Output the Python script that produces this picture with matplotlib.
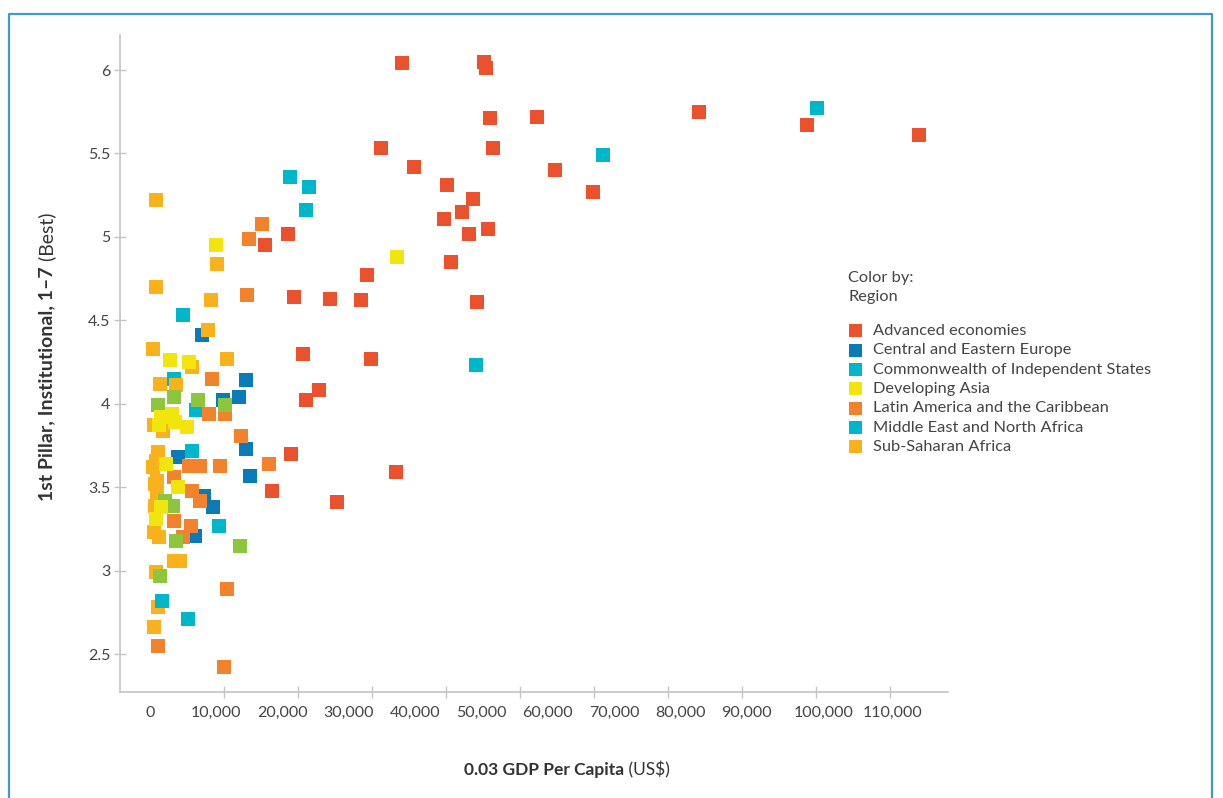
import matplotlib

matplotlib.use("Agg")
import matplotlib.pyplot as plt
from matplotlib.lines import Line2D
from matplotlib.patches import Rectangle
from matplotlib.transforms import ScaledTranslation

# GDP per capita (US$) and 1st pillar score, by region
adv_x = [38000, 50400, 50700, 51300, 58400, 82800, 99100, 116000, 34800, 51700,
         39800, 61100, 66800, 44800, 48700, 44300, 47000, 48100, 51000, 20800,
         17300, 45400, 32700, 21700, 27100, 31800, 49300, 23100, 33300, 25500,
         23500, 21300, 37100, 18400, 28200]
adv_y = [6.04, 6.05, 6.01, 5.71, 5.72, 5.75, 5.67, 5.61, 5.53, 5.53,
         5.42, 5.40, 5.27, 5.31, 5.23, 5.11, 5.15, 5.02, 5.05, 5.02,
         4.95, 4.85, 4.77, 4.64, 4.63, 4.62, 4.61, 4.30, 4.27, 4.08,
         4.02, 3.70, 3.59, 3.48, 3.41]

cee_x = [7800, 14500, 13400, 11000, 14500, 15100, 9500, 8100, 6800, 4200]
cee_y = [4.41, 4.14, 4.04, 4.02, 3.73, 3.57, 3.38, 3.45, 3.21, 3.68]

cis_x = [5000, 3600, 6900, 6300, 10400, 5700]
cis_y = [4.53, 4.15, 3.96, 3.72, 3.27, 2.71]

mena_x = [100600, 68300, 21100, 24000, 23500, 49200, 1800]
mena_y = [5.77, 5.49, 5.36, 5.30, 5.16, 4.23, 2.82]

# green points have no entry in the legend
other_x = [1200, 3600, 7200, 11300, 2300, 3500, 3900, 13600, 1500]
other_y = [3.99, 4.04, 4.02, 3.99, 3.42, 3.39, 3.18, 3.15, 2.97]

asia_x = [10000, 37200, 3000, 5900, 3300, 1700, 3800, 1400, 5600, 2400, 4200, 1700, 900]
asia_y = [4.95, 4.88, 4.26, 4.25, 3.94, 3.92, 3.89, 3.87, 3.86, 3.64, 3.50, 3.38, 3.31]

latam_x = [16900, 14900, 14600, 9300, 8900, 11300, 13700, 17900, 5900, 7500,
           10600, 3600, 6300, 7500, 3600, 6200, 5000, 11600, 1200, 11200]
latam_y = [5.08, 4.99, 4.65, 4.15, 3.94, 3.94, 3.81, 3.64, 3.63, 3.63,
           3.63, 3.56, 3.48, 3.42, 3.30, 3.27, 3.20, 2.89, 2.55, 2.42]

ssa_x = [900, 10100, 900, 9200, 8700, 500, 11600, 6300, 1500, 3900,
         600, 2000, 1200, 900, 500, 1100, 800, 1100, 800, 600,
         1400, 3600, 4500, 900, 1200, 600]
ssa_y = [5.22, 4.84, 4.70, 4.62, 4.44, 4.33, 4.27, 4.22, 4.12, 4.11,
         3.87, 3.84, 3.71, 3.66, 3.62, 3.54, 3.52, 3.46, 3.39, 3.23,
         3.20, 3.06, 3.06, 2.99, 2.78, 2.66]

legend_labels = ["Advanced economies", "Central and Eastern Europe",
                 "Commonwealth of Independent States", "Developing Asia",
                 "Latin America and the Caribbean", "Middle East and North Africa",
                 "Sub-Saharan Africa"]
legend_colors = ["#e9522c", "#0b7bb7", "#00b6c9", "#f1e50d", "#f3822d", "#00b6c9", "#f9b21b"]

x_ticks = [0, 10000, 20000, 30000, 40000, 50000, 60000, 70000, 80000, 90000, 100000, 110000]
y_ticks = [2.5, 3, 3.5, 4, 4.5, 5, 5.5, 6]

plt.rcParams["font.family"] = ["Lato", "DejaVu Sans"]

W, H = 1223, 798
fig = plt.figure(figsize=(W / 100, H / 100), dpi=100)
ax = fig.add_axes([120 / W, 1 - 692 / H, 828 / W, 657 / H])

# draw order follows the overlaps in the picture
series = [
    (adv_x, adv_y, "#e9522c"),
    (cee_x, cee_y, "#0b7bb7"),
    (cis_x, cis_y, "#00b6c9"),
    (latam_x, latam_y, "#f3822d"),
    (ssa_x, ssa_y, "#f9b21b"),
    (other_x, other_y, "#8cc63f"),
    (asia_x, asia_y, "#f1e50d"),
    (mena_x, mena_y, "#00b6c9"),
]
for xs, ys, c in series:
    ax.scatter(xs, ys, s=100, marker="s", color=c, linewidths=0, zorder=3)

ax.set_xlim(-4524, 120340)
ax.set_ylim(2.273, 6.21)

for side in ["top", "right"]:
    ax.spines[side].set_visible(False)
for side in ["left", "bottom"]:
    ax.spines[side].set_color("#c4c4c4")
    ax.spines[side].set_linewidth(1.2)

ax.set_yticks(y_ticks)
ax.set_yticklabels([f"{v:g}" for v in y_ticks])
ax.tick_params(axis="y", direction="inout", length=8, width=1, color="#c4c4c4",
               labelsize=11.5, labelcolor="#444444", pad=3)

# labels sit on an even spacing, the tick marks on a slightly wider one
ax.set_xticks(x_ticks)
ax.set_xticklabels([f"{v:,}" for v in x_ticks])
ax.set_xticks([k * 11161 for k in range(11)], minor=True)
ax.tick_params(axis="x", which="major", length=0, labelsize=11.5,
               labelcolor="#444444", pad=10)
ax.tick_params(axis="x", which="minor", direction="inout", length=8, width=1,
               color="#c4c4c4")
for lab, dx in zip(ax.get_xticklabels()[-2:], [11, 13]):
    lab.set_transform(lab.get_transform() + ScaledTranslation(dx / 100, 0, fig.dpi_scale_trans))

# axis titles: bold part plus regular part
xl = fig.text(464 / W, 1 - 770 / H, "0.03 GDP Per Capita", fontsize=12.5,
              fontweight="bold", color="#333333", ha="left", va="center")
ax.annotate(" (US$)", xy=(1, 0.5), xycoords=xl, fontsize=12.5, color="#333333",
            ha="left", va="center")
yl = fig.text(47 / W, 1 - 501 / H, "1st Pillar, Institutional, 1–7", fontsize=14,
              fontweight="bold", color="#333333", rotation=90, ha="center", va="bottom")
ax.annotate(" (Best)", xy=(0.5, 1), xycoords=yl, fontsize=14, color="#333333",
            rotation=90, ha="center", va="bottom")

# legend
fig.text(848 / W, 1 - 278 / H, "Color by:", fontsize=11.8, color="#444444", va="center")
fig.text(848 / W, 1 - 297 / H, "Region", fontsize=11.8, color="#444444", va="center")
for i, (lab, c) in enumerate(zip(legend_labels, legend_colors)):
    yc = 331 + 19.3 * i
    fig.patches.append(Rectangle((848.5 / W, 1 - (yc + 6.5) / H), 13 / W, 13 / H,
                                 transform=fig.transFigure, color=c, lw=0))
    fig.text(873 / W, 1 - yc / H, lab, fontsize=11.8, color="#444444", va="center")

# blue frame around the chart
frame = Line2D([9 / W, 9 / W, 1212 / W, 1212 / W], [0, 1 - 14 / H, 1 - 14 / H, 0],
               transform=fig.transFigure, color="#3d9ccc", lw=1.6)
fig.lines.append(frame)

fig.savefig("out.png", dpi=100)
